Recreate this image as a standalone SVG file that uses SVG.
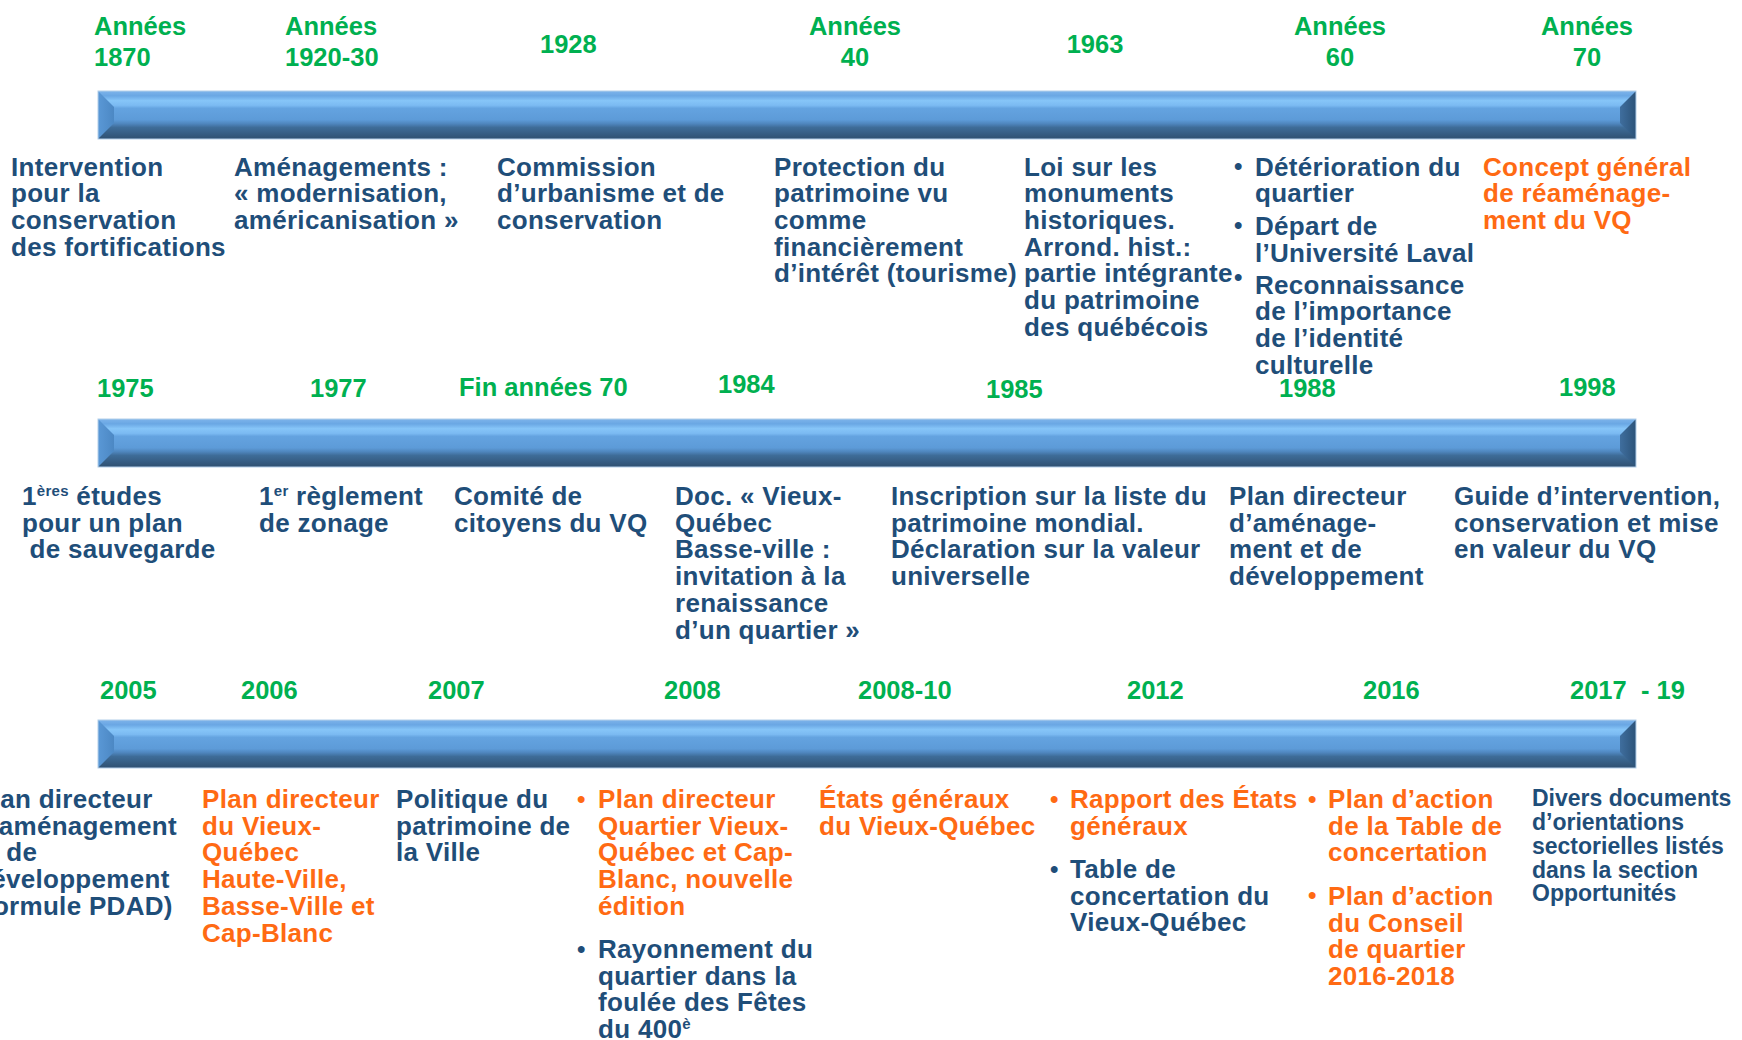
<svg xmlns="http://www.w3.org/2000/svg" xmlns:xlink="http://www.w3.org/1999/xlink" width="1742" height="1040" viewBox="0 0 1742 1040">
<style>
text{font-family:"Liberation Sans",Arial,sans-serif;font-weight:bold;}
.g{fill:#00B050;font-size:25.5px;}
.b{fill:#1F4E79;font-size:26px;letter-spacing:0.3px;}
.o{fill:#FF6A13;font-size:26px;letter-spacing:0.3px;}
.s{fill:#1F4E79;font-size:23px;}
.bu{font-size:24px;letter-spacing:0;}
.sup{font-size:15px;}
</style>
<defs>
<linearGradient id="barGrad" x1="0" y1="0" x2="0" y2="1">
<stop offset="0" stop-color="#7DB3EA"/>
<stop offset="0.1" stop-color="#6AA7E4"/>
<stop offset="0.2" stop-color="#86C5F8"/>
<stop offset="0.3" stop-color="#7BBAF2"/>
<stop offset="0.36" stop-color="#64A3E0"/>
<stop offset="0.6" stop-color="#5D9BD8"/>
<stop offset="0.68" stop-color="#4F86BE"/>
<stop offset="0.76" stop-color="#3E6C98"/>
<stop offset="1" stop-color="#2F5071"/>
</linearGradient>
<linearGradient id="leftGrad" x1="0" y1="0" x2="1" y2="0">
<stop offset="0" stop-color="#5A98D6"/>
<stop offset="1" stop-color="#4C88C4"/>
</linearGradient>
<linearGradient id="rightGrad" x1="0" y1="0" x2="1" y2="0">
<stop offset="0" stop-color="#3F6E9E"/>
<stop offset="1" stop-color="#2C5379"/>
</linearGradient>
<g id="barShape">
<rect x="0" y="0" width="1538" height="48" fill="url(#barGrad)"/>
<polygon points="0,0 16,16 16,32 0,48" fill="url(#leftGrad)"/>
<polygon points="1538,0 1522,16 1522,32 1538,48" fill="url(#rightGrad)"/>
<rect x="0" y="0" width="1538" height="48" fill="none" stroke="#B4CFEA" stroke-width="1"/>
</g>
</defs>
<rect width="1742" height="1040" fill="#FFFFFF"/>

<g id="connectors"/>

<!-- Row 1 -->
<g id="bar1"><use xlink:href="#barShape" x="98" y="91"/></g>
<g id="d1870"><text class="g" x="94" y="34.5">Années</text><text class="g" x="94" y="66">1870</text></g>
<g id="d1920"><text class="g" x="285" y="34.5">Années</text><text class="g" x="285" y="66">1920-30</text></g>
<g id="d1928"><text class="g" x="540" y="53">1928</text></g>
<g id="d40"><text class="g" x="855" y="34.5" text-anchor="middle">Années</text><text class="g" x="855" y="66" text-anchor="middle">40</text></g>
<g id="d1963"><text class="g" x="1095" y="53" text-anchor="middle">1963</text></g>
<g id="d60"><text class="g" x="1340" y="34.5" text-anchor="middle">Années</text><text class="g" x="1340" y="66" text-anchor="middle">60</text></g>
<g id="d70"><text class="g" x="1587" y="34.5" text-anchor="middle">Années</text><text class="g" x="1587" y="66" text-anchor="middle">70</text></g>

<g id="t1870"><text class="b"><tspan x="11" y="175.5">Intervention</tspan><tspan x="11" y="202.2">pour la</tspan><tspan x="11" y="228.9">conservation</tspan><tspan x="11" y="255.6">des fortifications</tspan></text></g>
<g id="t1920"><text class="b"><tspan x="234" y="175.5">Aménagements :</tspan><tspan x="234" y="202.2">« modernisation,</tspan><tspan x="234" y="228.9">américanisation »</tspan></text></g>
<g id="t1928"><text class="b"><tspan x="497" y="175.5">Commission</tspan><tspan x="497" y="202.2">d’urbanisme et de</tspan><tspan x="497" y="228.9">conservation</tspan></text></g>
<g id="t40"><text class="b"><tspan x="774" y="175.5">Protection du</tspan><tspan x="774" y="202.2">patrimoine vu</tspan><tspan x="774" y="228.9">comme</tspan><tspan x="774" y="255.6">financièrement</tspan><tspan x="774" y="282.3">d’intérêt (tourisme)</tspan></text></g>
<g id="t1963"><text class="b"><tspan x="1024" y="175.5">Loi sur les</tspan><tspan x="1024" y="202.2">monuments</tspan><tspan x="1024" y="228.9">historiques.</tspan><tspan x="1024" y="255.6">Arrond. hist.:</tspan><tspan x="1024" y="282.3">partie intégrante</tspan><tspan x="1024" y="309">du patrimoine</tspan><tspan x="1024" y="335.7">des québécois</tspan></text></g>
<g id="t60">
<text class="b bu" x="1234" y="174">•</text>
<text class="b bu" x="1234" y="233">•</text>
<text class="b bu" x="1234" y="285">•</text>
<text class="b"><tspan x="1255" y="175.5">Détérioration du</tspan><tspan x="1255" y="202.2">quartier</tspan><tspan x="1255" y="235">Départ de</tspan><tspan x="1255" y="261.5">l’Université Laval</tspan><tspan x="1255" y="294">Reconnaissance</tspan><tspan x="1255" y="320">de l’importance</tspan><tspan x="1255" y="347">de l’identité</tspan><tspan x="1255" y="373.5">culturelle</tspan></text>
</g>
<g id="t70"><text class="o"><tspan x="1483" y="175.5">Concept général</tspan><tspan x="1483" y="202.2">de réaménage-</tspan><tspan x="1483" y="228.9">ment du VQ</tspan></text></g>

<!-- Row 2 -->
<g id="bar2"><use xlink:href="#barShape" x="98" y="419"/></g>
<g id="d1975"><text class="g" x="97" y="397">1975</text></g>
<g id="d1977"><text class="g" x="310" y="397">1977</text></g>
<g id="dfin70"><text class="g" x="459" y="396">Fin années 70</text></g>
<g id="d1984"><text class="g" x="718" y="393">1984</text></g>
<g id="d1985"><text class="g" x="986" y="398">1985</text></g>
<g id="d1988"><text class="g" x="1279" y="397">1988</text></g>
<g id="d1998"><text class="g" x="1559" y="396">1998</text></g>

<g id="t1975"><text class="b"><tspan x="22" y="505">1</tspan><tspan class="sup" dy="-9">ères</tspan><tspan dy="9"> études</tspan><tspan x="22" y="531.7">pour un plan</tspan><tspan x="22" y="558.4"> de sauvegarde</tspan></text></g>
<g id="t1977"><text class="b"><tspan x="259" y="505">1</tspan><tspan class="sup" dy="-9">er</tspan><tspan dy="9"> règlement</tspan><tspan x="259" y="531.7">de zonage</tspan></text></g>
<g id="tfin70"><text class="b"><tspan x="454" y="505">Comité de</tspan><tspan x="454" y="531.7">citoyens du VQ</tspan></text></g>
<g id="t1984"><text class="b"><tspan x="675" y="505">Doc. « Vieux-</tspan><tspan x="675" y="531.7">Québec</tspan><tspan x="675" y="558.4">Basse-ville :</tspan><tspan x="675" y="585.1">invitation à la</tspan><tspan x="675" y="611.8">renaissance</tspan><tspan x="675" y="638.5">d’un quartier »</tspan></text></g>
<g id="t1985"><text class="b"><tspan x="891" y="505">Inscription sur la liste du</tspan><tspan x="891" y="531.7">patrimoine mondial.</tspan><tspan x="891" y="558.4">Déclaration sur la valeur</tspan><tspan x="891" y="585.1">universelle</tspan></text></g>
<g id="t1988"><text class="b"><tspan x="1229" y="505">Plan directeur</tspan><tspan x="1229" y="531.7">d’aménage-</tspan><tspan x="1229" y="558.4">ment et de</tspan><tspan x="1229" y="585.1">développement</tspan></text></g>
<g id="t1998"><text class="b"><tspan x="1454" y="505">Guide d’intervention,</tspan><tspan x="1454" y="531.7">conservation et mise</tspan><tspan x="1454" y="558.4">en valeur du VQ</tspan></text></g>

<!-- Row 3 -->
<g id="bar3"><use xlink:href="#barShape" x="98" y="720"/></g>
<g id="d2005"><text class="g" x="100" y="699">2005</text></g>
<g id="d2006"><text class="g" x="241" y="699">2006</text></g>
<g id="d2007"><text class="g" x="428" y="699">2007</text></g>
<g id="d2008"><text class="g" x="664" y="699">2008</text></g>
<g id="d2008-10"><text class="g" x="858" y="699">2008-10</text></g>
<g id="d2012"><text class="g" x="1127" y="699">2012</text></g>
<g id="d2016"><text class="g" x="1363" y="699">2016</text></g>
<g id="d2017"><text class="g" x="1570" y="699" xml:space="preserve">2017  - 19</text></g>

<g id="t2005"><text class="b"><tspan x="-25" y="808">Plan directeur</tspan><tspan x="-25" y="834.7">d’aménagement</tspan><tspan x="-25" y="861.4">et de</tspan><tspan x="-25" y="888.1">développement</tspan><tspan x="-25" y="914.8">(formule PDAD)</tspan></text></g>
<g id="t2006"><text class="o"><tspan x="202" y="808">Plan directeur</tspan><tspan x="202" y="834.7">du Vieux-</tspan><tspan x="202" y="861.4">Québec</tspan><tspan x="202" y="888.1">Haute-Ville,</tspan><tspan x="202" y="914.8">Basse-Ville et</tspan><tspan x="202" y="941.5">Cap-Blanc</tspan></text></g>
<g id="t2007"><text class="b"><tspan x="396" y="808">Politique du</tspan><tspan x="396" y="834.7">patrimoine de</tspan><tspan x="396" y="861.4">la Ville</tspan></text></g>
<g id="t2008">
<text class="o bu" x="577" y="807">•</text>
<text class="o"><tspan x="598" y="808">Plan directeur</tspan><tspan x="598" y="834.7">Quartier Vieux-</tspan><tspan x="598" y="861.4">Québec et Cap-</tspan><tspan x="598" y="888.1">Blanc, nouvelle</tspan><tspan x="598" y="914.8">édition</tspan></text>
<text class="b bu" x="577" y="957">•</text>
<text class="b"><tspan x="598" y="958">Rayonnement du</tspan><tspan x="598" y="984.7">quartier dans la</tspan><tspan x="598" y="1011.4">foulée des Fêtes</tspan><tspan x="598" y="1038">du 400</tspan><tspan class="sup" dy="-9">è</tspan></text>
</g>
<g id="t2008-10"><text class="o"><tspan x="819" y="808">États généraux</tspan><tspan x="819" y="834.7">du Vieux-Québec</tspan></text></g>
<g id="t2012">
<text class="o bu" x="1050" y="807">•</text>
<text class="o"><tspan x="1070" y="808">Rapport des États</tspan><tspan x="1070" y="834.7">généraux</tspan></text>
<text class="b bu" x="1050" y="877">•</text>
<text class="b"><tspan x="1070" y="878">Table de</tspan><tspan x="1070" y="904.7">concertation du</tspan><tspan x="1070" y="931.4">Vieux-Québec</tspan></text>
</g>
<g id="t2016">
<text class="o bu" x="1308" y="807">•</text>
<text class="o"><tspan x="1328" y="808">Plan d’action</tspan><tspan x="1328" y="834.7">de la Table de</tspan><tspan x="1328" y="861.4">concertation</tspan></text>
<text class="o bu" x="1308" y="903">•</text>
<text class="o"><tspan x="1328" y="905">Plan d’action</tspan><tspan x="1328" y="931.7">du Conseil</tspan><tspan x="1328" y="958.4">de quartier</tspan><tspan x="1328" y="985.1">2016-2018</tspan></text>
</g>
<g id="t2017"><text class="s"><tspan x="1532" y="806">Divers documents</tspan><tspan x="1532" y="830">d’orientations</tspan><tspan x="1532" y="853.5">sectorielles listés</tspan><tspan x="1532" y="878">dans la section</tspan><tspan x="1532" y="901">Opportunités</tspan></text></g>
</svg>
